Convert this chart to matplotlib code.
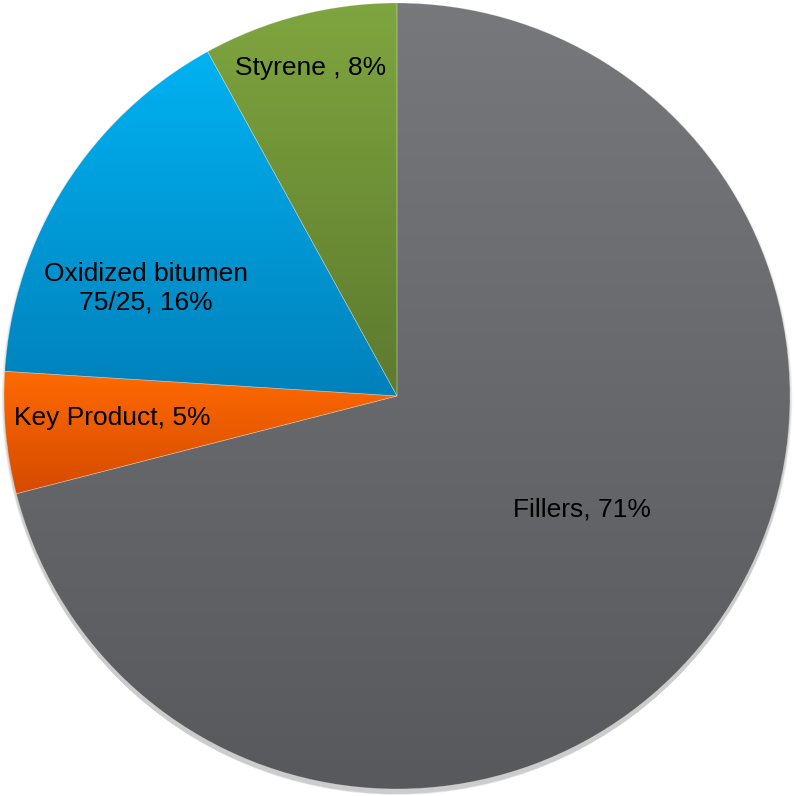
import numpy as np
import matplotlib
matplotlib.use("Agg")
import matplotlib.pyplot as plt
from matplotlib.colors import LinearSegmentedColormap

plt.rcParams['font.family'] = ['Liberation Sans', 'DejaVu Sans']

# data
labels = ["Fillers, 71%", "Key Product, 5%", "Oxidized bitumen\n75/25, 16%", "Styrene , 8%"]
values = [71, 5, 16, 8]
top_colors = ["#77787c", "#ff6a00", "#00b2f2", "#7fa53f"]
bottom_colors = ["#58595c", "#d44a00", "#0081bb", "#5d7a2e"]
# label anchors in figure pixels (x, y from top)
label_px = [(582, 510), (112, 418), (146, 288), (311, 68)]

W, H = 794, 796
cx, cy, rpx = 397, 396, 393

fig = plt.figure(figsize=(W / 100, H / 100), dpi=100)
ax = fig.add_axes([0, 0, 1, 1])
ax.set_xlim(-cx / rpx, (W - cx) / rpx)
ax.set_ylim(-(H - cy) / rpx, cy / rpx)
ax.set_aspect('equal')
ax.axis('off')

# soft shadow under the pie
for i, a in enumerate([0.05, 0.05, 0.05, 0.06]):
    ax.add_patch(plt.Circle((0, -0.006 - 0.003 * i), 1.0 + 0.002 * (3 - i),
                            color='#000000', alpha=a, lw=0, zorder=0))

wedges, _ = ax.pie(values, startangle=90, counterclock=False, radius=1.0,
                   wedgeprops=dict(linewidth=0.5, edgecolor=(1, 1, 1, 0.3)))

grad = np.linspace(0, 1, 256).reshape(-1, 1)
for w, c0, c1 in zip(wedges, top_colors, bottom_colors):
    w.set_facecolor('none')
    w.set_zorder(3)
    bb = w.get_path().get_extents(w.get_patch_transform())
    cmap = LinearSegmentedColormap.from_list('g', [c0, c1])
    im = ax.imshow(grad, cmap=cmap, aspect='auto', origin='upper',
                   extent=[bb.x0, bb.x1, bb.y0, bb.y1], zorder=2,
                   interpolation='bilinear')
    im.set_clip_path(w)

ax.set_xlim(-cx / rpx, (W - cx) / rpx)
ax.set_ylim(-(H - cy) / rpx, cy / rpx)

for lab, (px, py) in zip(labels, label_px):
    fig.text(px / W, 1 - py / H, lab, ha='center', va='center',
             fontsize=19, color='#000000', linespacing=1.22, zorder=5)

fig.savefig("out.png", dpi=100)
